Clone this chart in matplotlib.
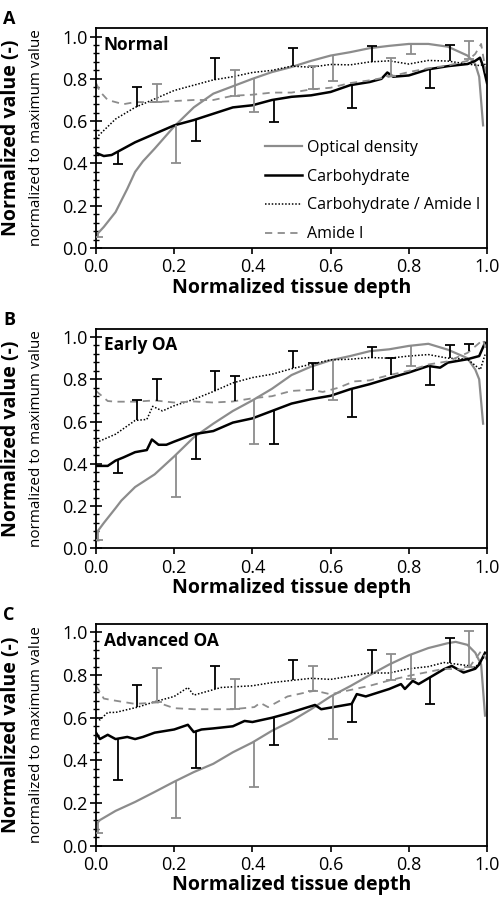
from __future__ import annotations
import matplotlib
matplotlib.use("Agg")
import matplotlib.pyplot as plt
import numpy as np

plt.rcParams["font.family"] = ["Open Sans", "DejaVu Sans"]

GREY = "#8c8c8c"

# ---- Panel A: Normal ----
od_x_a = [0.0, 0.02, 0.05, 0.08, 0.10, 0.12, 0.15, 0.20, 0.25, 0.30, 0.35, 0.40, 0.45, 0.50,
          0.55, 0.60, 0.65, 0.70, 0.75, 0.80, 0.85, 0.90, 0.95, 0.97, 0.98, 0.99]
od_a = [0.06, 0.10, 0.17, 0.28, 0.36, 0.41, 0.47, 0.575, 0.665, 0.73, 0.765, 0.80, 0.832, 0.856,
        0.885, 0.91, 0.926, 0.945, 0.956, 0.965, 0.965, 0.952, 0.91, 0.87, 0.81, 0.58]
carb_x_a = [0.0, 0.02, 0.04, 0.06, 0.10, 0.15, 0.20, 0.25, 0.30, 0.35, 0.40, 0.45, 0.50, 0.55,
            0.60, 0.65, 0.70, 0.73, 0.745, 0.76, 0.80, 0.85, 0.90, 0.95, 0.97, 0.982, 0.99, 1.0]
carb_a = [0.45, 0.435, 0.44, 0.46, 0.50, 0.54, 0.58, 0.605, 0.635, 0.665, 0.675, 0.70, 0.715, 0.722,
          0.738, 0.77, 0.785, 0.80, 0.83, 0.81, 0.816, 0.845, 0.86, 0.87, 0.885, 0.90, 0.86, 0.78]
ratio_x_a = [0.0, 0.05, 0.10, 0.15, 0.20, 0.25, 0.30, 0.35, 0.40, 0.45, 0.50, 0.55, 0.60, 0.65,
             0.70, 0.75, 0.80, 0.85, 0.90, 0.95, 0.98, 1.0]
ratio_a = [0.52, 0.61, 0.665, 0.705, 0.745, 0.77, 0.795, 0.81, 0.83, 0.84, 0.86, 0.855, 0.868, 0.866,
           0.88, 0.885, 0.87, 0.887, 0.884, 0.87, 0.863, 0.87]
amide_x_a = [0.0, 0.01, 0.03, 0.07, 0.10, 0.15, 0.20, 0.25, 0.30, 0.35, 0.40, 0.45, 0.50, 0.55,
             0.60, 0.65, 0.70, 0.75, 0.80, 0.85, 0.90, 0.95, 0.97, 0.985, 1.0]
amide_a = [0.78, 0.74, 0.70, 0.68, 0.69, 0.69, 0.695, 0.70, 0.70, 0.72, 0.725, 0.735, 0.735, 0.75,
           0.758, 0.78, 0.793, 0.81, 0.832, 0.85, 0.863, 0.885, 0.918, 0.965, 0.80]

# ---- Panel B: Early OA ----
od_x_b = [0.0, 0.02, 0.05, 0.065, 0.10, 0.15, 0.20, 0.25, 0.30, 0.35, 0.40, 0.45, 0.50, 0.55,
          0.60, 0.65, 0.70, 0.75, 0.80, 0.85, 0.90, 0.95, 0.97, 0.98, 0.99]
od_b = [0.07, 0.12, 0.19, 0.226, 0.29, 0.35, 0.435, 0.525, 0.59, 0.65, 0.70, 0.755, 0.82, 0.86,
        0.89, 0.91, 0.933, 0.942, 0.958, 0.968, 0.94, 0.90, 0.846, 0.80, 0.59]
carb_x_b = [0.0, 0.03, 0.05, 0.07, 0.10, 0.13, 0.143, 0.16, 0.18, 0.20, 0.25, 0.30, 0.35, 0.40,
            0.45, 0.50, 0.55, 0.60, 0.65, 0.70, 0.75, 0.80, 0.85, 0.88, 0.90, 0.95, 0.98, 0.995]
carb_b = [0.39, 0.39, 0.415, 0.43, 0.455, 0.465, 0.515, 0.49, 0.49, 0.505, 0.54, 0.555, 0.595, 0.615,
          0.65, 0.685, 0.706, 0.722, 0.753, 0.777, 0.805, 0.832, 0.863, 0.855, 0.879, 0.895, 0.91, 0.973]
ratio_x_b = [0.0, 0.05, 0.10, 0.13, 0.145, 0.17, 0.20, 0.25, 0.30, 0.35, 0.40, 0.45, 0.50, 0.55,
             0.60, 0.65, 0.70, 0.75, 0.80, 0.85, 0.90, 0.95, 0.983, 0.995]
ratio_b = [0.50, 0.54, 0.605, 0.61, 0.672, 0.65, 0.675, 0.705, 0.742, 0.783, 0.808, 0.824, 0.85, 0.871,
           0.892, 0.895, 0.903, 0.90, 0.91, 0.917, 0.90, 0.895, 0.846, 0.917]
amide_x_b = [0.0, 0.03, 0.05, 0.10, 0.15, 0.20, 0.25, 0.30, 0.35, 0.40, 0.45, 0.50, 0.55, 0.58,
             0.60, 0.62, 0.66, 0.70, 0.75, 0.80, 0.85, 0.90, 0.95, 0.99, 1.0]
amide_b = [0.745, 0.697, 0.694, 0.694, 0.70, 0.69, 0.695, 0.69, 0.695, 0.71, 0.72, 0.745, 0.75, 0.74,
           0.75, 0.76, 0.79, 0.795, 0.82, 0.84, 0.87, 0.885, 0.925, 0.987, 0.92]

# ---- Panel C: Advanced OA ----
od_x_c = [0.0, 0.01, 0.05, 0.10, 0.15, 0.20, 0.25, 0.30, 0.35, 0.40, 0.45, 0.50, 0.55, 0.60,
          0.65, 0.70, 0.75, 0.80, 0.85, 0.90, 0.92, 0.95, 0.97, 0.985, 0.995]
od_c = [0.10, 0.12, 0.163, 0.205, 0.252, 0.30, 0.345, 0.384, 0.438, 0.484, 0.539, 0.585, 0.64, 0.70,
        0.748, 0.80, 0.85, 0.893, 0.927, 0.95, 0.956, 0.942, 0.905, 0.85, 0.61]
carb_x_c = [0.0, 0.01, 0.03, 0.05, 0.08, 0.10, 0.12, 0.15, 0.20, 0.235, 0.25, 0.27, 0.30, 0.35,
            0.38, 0.40, 0.45, 0.49, 0.56, 0.576, 0.654, 0.667, 0.69, 0.75, 0.78, 0.79, 0.81, 0.825,
            0.89, 0.91, 0.94, 0.97, 0.98, 0.995]
carb_c = [0.53, 0.50, 0.52, 0.50, 0.51, 0.50, 0.51, 0.53, 0.545, 0.567, 0.533, 0.545, 0.55, 0.56,
          0.585, 0.58, 0.60, 0.62, 0.66, 0.64, 0.665, 0.711, 0.70, 0.735, 0.758, 0.735, 0.773, 0.758,
          0.828, 0.843, 0.812, 0.83, 0.85, 0.905]
ratio_x_c = [0.0, 0.01, 0.03, 0.05, 0.107, 0.15, 0.20, 0.235, 0.25, 0.32, 0.35, 0.40, 0.45, 0.49,
             0.55, 0.60, 0.65, 0.70, 0.75, 0.80, 0.85, 0.89, 0.95, 0.97, 0.995]
ratio_c = [0.60, 0.59, 0.625, 0.625, 0.65, 0.675, 0.70, 0.742, 0.706, 0.742, 0.745, 0.75, 0.765, 0.773,
           0.785, 0.78, 0.795, 0.81, 0.81, 0.83, 0.84, 0.859, 0.845, 0.836, 0.89]
amide_x_c = [0.0, 0.02, 0.05, 0.10, 0.157, 0.20, 0.25, 0.30, 0.35, 0.405, 0.42, 0.44, 0.49, 0.54,
             0.56, 0.60, 0.65, 0.70, 0.75, 0.80, 0.85, 0.89, 0.95, 0.985, 1.0]
amide_c = [0.75, 0.69, 0.68, 0.665, 0.672, 0.645, 0.64, 0.64, 0.64, 0.65, 0.67, 0.65, 0.70, 0.72,
           0.727, 0.71, 0.73, 0.75, 0.775, 0.797, 0.815, 0.83, 0.825, 0.913, 0.87]

# one-sided error bars: x position and end value of the bar
err_od_x = [0.005, 0.205, 0.405, 0.605, 0.805]
err_carb_x = [0.055, 0.255, 0.455, 0.655, 0.855]
err_ratio_x = [0.105, 0.305, 0.505, 0.705, 0.905]
err_amide_x = [0.155, 0.355, 0.555, 0.755, 0.955]

err_od_a = [0.05, 0.40, 0.645, 0.79, 0.918]
err_carb_a = [0.395, 0.505, 0.595, 0.66, 0.755]
err_ratio_a = [0.76, 0.90, 0.945, 0.953, 0.958]
err_amide_a = [0.775, 0.84, 0.86, 0.90, 0.98]

err_od_b = [0.04, 0.245, 0.495, 0.70, 0.865]
err_carb_b = [0.355, 0.425, 0.495, 0.62, 0.775]
err_ratio_b = [0.70, 0.84, 0.935, 0.953, 0.96]
err_amide_b = [0.80, 0.817, 0.876, 0.903, 0.968]

err_od_c = [0.06, 0.13, 0.275, 0.50, 0.78]
err_carb_c = [0.31, 0.365, 0.472, 0.578, 0.666]
err_ratio_c = [0.756, 0.845, 0.873, 0.919, 0.974]
err_amide_c = [0.834, 0.78, 0.845, 0.90, 1.008]

labels = ["Optical density", "Carbohydrate", "Carbohydrate / Amide I", "Amide I"]


def one_sided(ax, xs, sx, sy, ends, color, base_cap=False):
    base = np.interp(xs, sx, sy)
    ax.vlines(xs, base, ends, color=color, lw=1.3, zorder=4)
    ax.plot(xs, ends, ls="none", marker="_", ms=7, mew=1.3, color=color, zorder=4)
    if base_cap:
        ax.plot(xs, base, ls="none", marker="_", ms=7, mew=1.3, color=color, zorder=4)


def draw_panel(ax, letter, title, od, carb, ratio, amide, errs, amide_err_color, legend=False):
    h_od, = ax.plot(od[0], od[1], color=GREY, lw=1.6, label=labels[0])
    h_carb, = ax.plot(carb[0], carb[1], color="black", lw=1.8, label=labels[1])
    h_ratio, = ax.plot(ratio[0], ratio[1], color="black", lw=1.1, ls=(0, (1, 1.2)), label=labels[2])
    h_amide, = ax.plot(amide[0], amide[1], color=GREY, lw=1.3, ls=(0, (4, 3)), label=labels[3])

    one_sided(ax, err_od_x, od[0], od[1], errs[0], GREY)
    one_sided(ax, err_carb_x, carb[0], carb[1], errs[1], "black")
    one_sided(ax, err_ratio_x, ratio[0], ratio[1], errs[2], "black")
    one_sided(ax, err_amide_x, amide[0], amide[1], errs[3], amide_err_color,
              base_cap=amide_err_color == GREY)

    ax.set_xlim(0, 1.0)
    ax.set_ylim(0, 1.04)
    ax.set_xticks(np.arange(0, 1.01, 0.2))
    ax.set_yticks(np.arange(0, 1.01, 0.2))
    ax.set_yticks(np.arange(0, 1.01, 0.04), minor=True)
    ax.xaxis.set_major_formatter(matplotlib.ticker.FormatStrFormatter("%.1f"))
    ax.yaxis.set_major_formatter(matplotlib.ticker.FormatStrFormatter("%.1f"))
    ax.tick_params(axis="y", which="major", direction="inout", length=8, width=1.2, labelsize=13, pad=2)
    ax.tick_params(axis="y", which="minor", direction="inout", length=5, width=1.0)
    ax.tick_params(axis="x", which="major", direction="out", length=4.5, width=1.2, labelsize=13, pad=3)
    for sp in ax.spines.values():
        sp.set_linewidth(1.3)

    ax.set_xlabel("Normalized tissue depth", fontsize=14, fontweight="bold", labelpad=1)
    ax.text(-0.218, 0.5, "Normalized value (-)", transform=ax.transAxes, rotation=90,
            ha="center", va="center", fontsize=14, fontweight="bold")
    ax.text(-0.152, 0.5, "normalized to maximum value", transform=ax.transAxes, rotation=90,
            ha="center", va="center", fontsize=11)
    ax.text(0.02, 0.965, title, transform=ax.transAxes, ha="left", va="top",
            fontsize=12.5, fontweight="bold")
    ax.text(-0.238, 1.08, letter, transform=ax.transAxes, ha="left", va="top",
            fontsize=13, fontweight="bold")

    if legend:
        ax.legend(handles=[h_od, h_carb, h_ratio, h_amide], loc="lower left",
                  bbox_to_anchor=(0.412, -0.01), frameon=False, fontsize=11.5,
                  handlelength=2.3, handletextpad=0.35, labelspacing=0.8, borderpad=0)


fig = plt.figure(figsize=(5, 9), dpi=100)
ax_a = fig.add_axes([0.192, 0.7244, 0.782, 0.2444])
ax_b = fig.add_axes([0.192, 0.3908, 0.782, 0.2441])
ax_c = fig.add_axes([0.192, 0.0604, 0.782, 0.2463])

draw_panel(ax_a, "A", "Normal", (od_x_a, od_a), (carb_x_a, carb_a), (ratio_x_a, ratio_a),
           (amide_x_a, amide_a), (err_od_a, err_carb_a, err_ratio_a, err_amide_a), GREY, legend=True)
draw_panel(ax_b, "B", "Early OA", (od_x_b, od_b), (carb_x_b, carb_b), (ratio_x_b, ratio_b),
           (amide_x_b, amide_b), (err_od_b, err_carb_b, err_ratio_b, err_amide_b), "black")
draw_panel(ax_c, "C", "Advanced OA", (od_x_c, od_c), (carb_x_c, carb_c), (ratio_x_c, ratio_c),
           (amide_x_c, amide_c), (err_od_c, err_carb_c, err_ratio_c, err_amide_c), GREY)

fig.savefig("out.png", dpi=100)
plt.close(fig)
